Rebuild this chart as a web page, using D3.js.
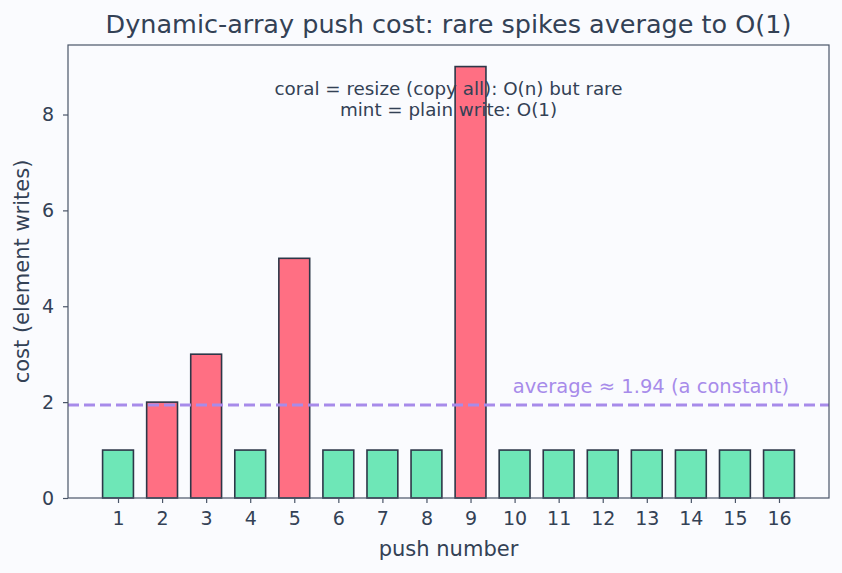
<!DOCTYPE html>
<html>
<head>
<meta charset="utf-8">
<script src="https://cdn.jsdelivr.net/npm/d3@7"></script>
<style>
  body { margin: 0; background: #fafbfe; }
  text { font-family: "DejaVu Sans", sans-serif; fill: #334155; }
</style>
</head>
<body>
<div id="chart"></div>
<script>
// push number and cost in element writes
var pushes = [1, 2, 3, 4, 5, 6, 7, 8, 9, 10, 11, 12, 13, 14, 15, 16];
var costs  = [1, 2, 3, 1, 5, 1, 1, 1, 9, 1, 1, 1, 1, 1, 1, 1];
var resize = [false, true, true, false, true, false, false, false, true, false, false, false, false, false, false, false];
var average = 1.94;
var yTicks = [0, 2, 4, 6, 8];

var margin = {top: 45, right: 13, bottom: 75, left: 68}
  , width = 842 - margin.left - margin.right
  , height = 573 - margin.top - margin.bottom;

var xScale = d3.scaleLinear()
    .domain([-0.135, 17.135])
    .range([0, width]);

var yScale = d3.scaleLinear()
    .domain([0, 9.45])
    .range([height, 0]);

var barW = xScale(0.7) - xScale(0);

var svg = d3.select("#chart").append("svg")
    .attr("width", 842)
    .attr("height", 573)
    .style("background", "#fafbfe");

var g = svg.append("g")
    .attr("transform", "translate(" + margin.left + "," + margin.top + ")");

// bars
g.selectAll("rect.bar")
    .data(pushes)
    .enter().append("rect")
    .attr("class", "bar")
    .attr("x", function(d) { return xScale(d) - barW / 2; })
    .attr("y", function(d, i) { return yScale(costs[i]); })
    .attr("width", barW)
    .attr("height", function(d, i) { return yScale(0) - yScale(costs[i]); })
    .attr("fill", function(d, i) { return resize[i] ? "#ff6f83" : "#6ee7b7"; })
    .attr("stroke", "#2d3748")
    .attr("stroke-width", 1.6);

// average line
g.append("line")
    .attr("x1", 0)
    .attr("x2", width)
    .attr("y1", yScale(average))
    .attr("y2", yScale(average))
    .attr("stroke", "#a78bea")
    .attr("stroke-width", 3.2)
    .attr("stroke-dasharray", "11,5");

g.append("text")
    .attr("x", xScale(16.23))
    .attr("y", yScale(2.19))
    .attr("text-anchor", "end")
    .style("font-size", "19.5px")
    .style("fill", "#a78bea")
    .text("average \u2248 " + average.toFixed(2) + " (a constant)");

// axes
var xAxis = g.append("g")
    .attr("transform", "translate(0," + height + ")")
    .call(d3.axisBottom(xScale).tickValues(pushes).tickSize(5).tickPadding(9).tickFormat(d3.format("d")));

var yAxis = g.append("g")
    .call(d3.axisLeft(yScale).tickValues(yTicks).tickSize(5).tickPadding(9));

[xAxis, yAxis].forEach(function(a) {
    a.select(".domain").remove();
    a.selectAll("line").attr("stroke", "#4a5568").attr("stroke-width", 1.2);
    a.selectAll("text").style("font-size", "19px").style("fill", "#334155").attr("font-family", null);
});

// frame
g.append("rect")
    .attr("x", 0)
    .attr("y", 0)
    .attr("width", width)
    .attr("height", height)
    .style("fill", "none")
    .attr("stroke", "#4a5568")
    .style("stroke-width", 1.2);

// note
g.append("text")
    .attr("x", width / 2)
    .attr("y", 50)
    .attr("text-anchor", "middle")
    .style("font-size", "18.3px")
    .text("coral = resize (copy all): O(n) but rare");

g.append("text")
    .attr("x", width / 2)
    .attr("y", 71)
    .attr("text-anchor", "middle")
    .style("font-size", "18.3px")
    .text("mint = plain write: O(1)");

// title and labels
svg.append("text")
    .attr("x", margin.left + width / 2)
    .attr("y", 33)
    .attr("text-anchor", "middle")
    .style("font-size", "25.5px")
    .text("Dynamic-array push cost: rare spikes average to O(1)");

svg.append("text")
    .attr("x", margin.left + width / 2)
    .attr("y", 556)
    .attr("text-anchor", "middle")
    .style("font-size", "21px")
    .text("push number");

svg.append("text")
    .attr("transform", "translate(29," + (margin.top + height / 2) + ") rotate(-90)")
    .attr("text-anchor", "middle")
    .style("font-size", "21px")
    .text("cost (element writes)");
</script>
</body>
</html>
